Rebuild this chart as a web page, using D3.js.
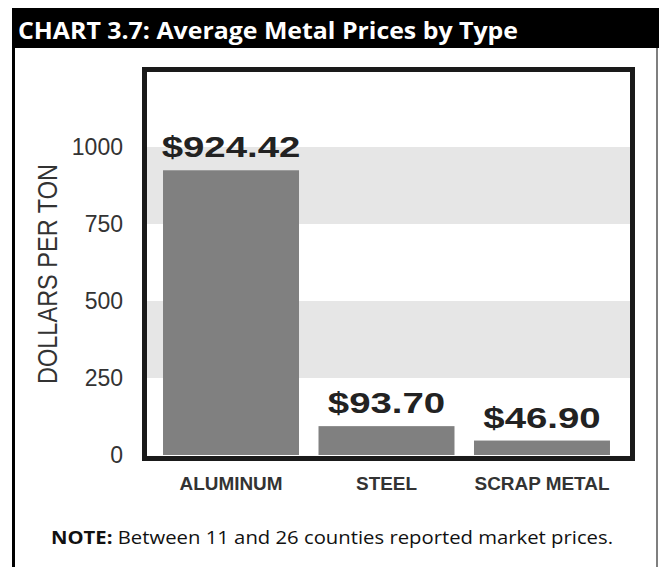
<!DOCTYPE html>
<html><head><meta charset="utf-8">
<script src="https://cdn.jsdelivr.net/npm/d3@7"></script>
<style>html,body{margin:0;padding:0;background:#fff;}svg{display:block;}</style>
</head><body>
<svg id="c" width="659" height="567"></svg>
<script>
const categories = ["ALUMINUM", "STEEL", "SCRAP METAL"];
const values = [924.42, 93.70, 46.90];
const valueLabels = ["$924.42", "$93.70", "$46.90"];
const tickValues = [0, 250, 500, 750, 1000];
const bandRanges = [[250, 500], [750, 1000]];
const titleText = "CHART 3.7: Average Metal Prices by Type";
const yTitle = "DOLLARS PER TON";
const noteBold = "NOTE:";
const noteText = " Between 11 and 26 counties reported market prices.";

const svg = d3.select("#c");
const W = 659, H = 567;
svg.append("rect").attr("width", W).attr("height", H).attr("fill", "#fff");

// outer box
svg.append("line").attr("x1", 13.5).attr("x2", 13.5).attr("y1", 40).attr("y2", H).attr("stroke", "#000").attr("stroke-width", 3);
svg.append("line").attr("x1", 657).attr("x2", 657).attr("y1", 40).attr("y2", H).attr("stroke", "#555").attr("stroke-width", 1.5);

// title bar
svg.append("rect").attr("x", 12).attr("y", 8).attr("width", W - 12).attr("height", 40).attr("fill", "#000");
svg.append("text").attr("x", 18).attr("y", 38.5)
  .attr("font-family", "'Open Sans', 'Noto Sans', sans-serif").attr("font-weight", 700)
  .attr("font-size", 23.5).attr("fill", "#fff")
  .attr("textLength", 500).attr("lengthAdjust", "spacingAndGlyphs")
  .text(titleText);

// plot area
const inner = {x0: 147, x1: 630, y0: 72, y1: 455};
const y = d3.scaleLinear().domain([0, 1000]).range([455, 147]);
const x = d3.scaleBand().domain(categories).range([147, 626]).paddingInner(0.1254).paddingOuter(0.103);

// bands
svg.append("g").selectAll("rect").data(bandRanges).join("rect")
  .attr("x", inner.x0).attr("width", inner.x1 - inner.x0)
  .attr("y", d => y(d[1])).attr("height", d => y(d[0]) - y(d[1]))
  .attr("fill", "#e6e6e6");

// bars
svg.append("g").selectAll("rect").data(values).join("rect")
  .attr("x", (d, i) => x(categories[i])).attr("width", x.bandwidth())
  .attr("y", d => y(d)).attr("height", d => y(0) - y(d))
  .attr("fill", "#808080");

// frame
svg.append("rect").attr("x", 144.5).attr("y", 69.5).attr("width", 488).attr("height", 389)
  .attr("fill", "none").attr("stroke", "#1a1a1a").attr("stroke-width", 5);

// value labels
const stretch = 1.28;
svg.append("g").selectAll("text").data(values).join("text")
  .attr("transform", (d, i) => `translate(${x(categories[i]) + x.bandwidth() / 2},${y(d) - 13}) scale(${stretch},1)`)
  .attr("text-anchor", "middle")
  .attr("font-family", "'Liberation Sans', Arial, sans-serif").attr("font-weight", 700)
  .attr("font-size", 30).attr("fill", "#222")
  .text((d, i) => valueLabels[i]);

// y axis
const yAxis = d3.axisLeft(y).tickValues(tickValues).tickSize(0).tickPadding(0).tickFormat(d3.format("d"));
const ga = svg.append("g").attr("transform", "translate(123,0)").call(yAxis);
ga.select(".domain").remove();
ga.selectAll("text").attr("font-family", "'Liberation Sans', Arial, sans-serif")
  .attr("font-size", 23).attr("fill", "#333");

// y title
svg.append("text")
  .attr("transform", "translate(57,274) rotate(-90) scale(0.84,1)")
  .attr("text-anchor", "middle")
  .attr("font-family", "'Liberation Sans', Arial, sans-serif")
  .attr("font-size", 28).attr("fill", "#333")
  .text(yTitle);

// x category labels
svg.append("g").selectAll("text").data(categories).join("text")
  .attr("transform", d => `translate(${x(d) + x.bandwidth() / 2},489.5) scale(1.07,1)`)
  .attr("text-anchor", "middle")
  .attr("font-family", "'Liberation Sans', Arial, sans-serif").attr("font-weight", 700)
  .attr("font-size", 17.7).attr("fill", "#333")
  .text(d => d);

// note
const note = svg.append("text").attr("x", 51).attr("y", 544)
  .attr("font-family", "'Open Sans', 'Noto Sans', sans-serif")
  .attr("font-size", 17.5).attr("fill", "#111")
  .attr("textLength", 562).attr("lengthAdjust", "spacingAndGlyphs");
note.append("tspan").attr("font-weight", 700).text(noteBold);
note.append("tspan").text(noteText);
</script>
</body></html>
